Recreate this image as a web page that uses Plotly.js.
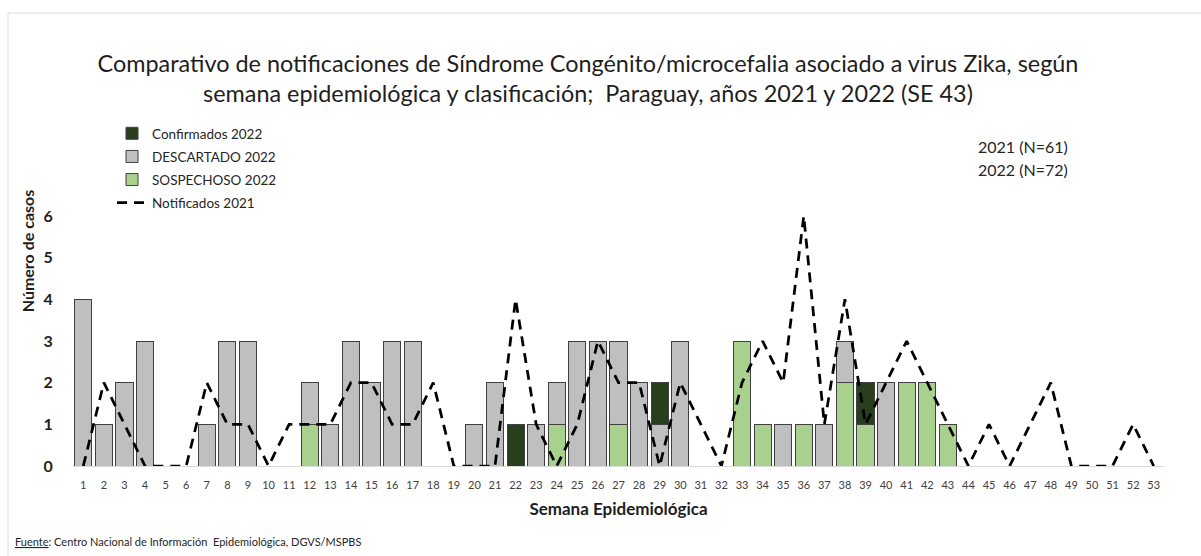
<!DOCTYPE html>
<html>
<head>
<meta charset="utf-8">
<script src="https://cdn.plot.ly/plotly-3.0.1.min.js"></script>
<style>html,body{margin:0;padding:0;background:#fff;}#chart{width:1201px;height:556px;}</style>
</head>
<body>
<div id="chart"></div>
<script>
const weeks = ['1','2','3','4','5','6','7','8','9','10','11','12','13','14','15','16','17','18','19','20','21','22','23','24','25','26','27','28','29','30','31','32','33','34','35','36','37','38','39','40','41','42','43','44','45','46','47','48','49','50','51','52','53'];
// 2022 stacked bars (weeks 1..53)
const sospechoso2022 = [0,0,0,0,0,0,0,0,0,0,0,1,0,0,0,0,0,0,0,0,0,0,0,1,0,0,1,0,0,0,0,0,3,1,0,1,0,2,1,0,2,2,1,0,0,0,0,0,0,0,0,0,0];
const descartado2022 = [4,1,2,3,0,0,1,3,3,0,0,1,1,3,2,3,3,0,0,1,2,0,1,1,3,3,2,2,1,3,0,0,0,0,1,0,1,1,0,2,0,0,0,0,0,0,0,0,0,0,0,0,0];
const confirmados2022 = [0,0,0,0,0,0,0,0,0,0,0,0,0,0,0,0,0,0,0,0,0,1,0,0,0,0,0,0,1,0,0,0,0,0,0,0,0,0,1,0,0,0,0,0,0,0,0,0,0,0,0,0,0];
// 2021 notified line
const notificados2021 = [0,2,1,0,0,0,2,1,1,0,1,1,1,2,2,1,1,2,0,0,0,4,1,0,1,3,2,2,0,2,1,0,2,3,2,6,1,4,1,2,3,2,1,0,1,0,1,2,0,0,0,1,0];
const yTicks = [0,1,2,3,4,5,6];
const yTickText = ['0','1','2','3','4','5','6'];

const FONT = 'Lato, "Open Sans", sans-serif';
const barLine = {color:'#404040', width:1};

const traces = [
  {type:'bar', name:'SOSPECHOSO 2022', x:weeks, y:sospechoso2022, marker:{color:'#A9D18E', line:barLine}, legendrank:3, legendgroup:'c'},
  {type:'bar', name:'DESCARTADO 2022', x:weeks, y:descartado2022, marker:{color:'#BFBFBF', line:barLine}, legendrank:2, legendgroup:'b'},
  {type:'bar', name:'Confirmados 2022', x:weeks, y:confirmados2022, marker:{color:'#283E1C', line:barLine}, legendrank:1, legendgroup:'a'},
  {type:'scatter', mode:'lines', name:'Notificados 2021', x:weeks, y:notificados2021, line:{color:'#000', width:2.75, dash:'10px,7px'}, legendrank:4, legendgroup:'d', cliponaxis:false}
];

const PT = 36, PB = 90, PL = 73, PR = 37, W = 1201, H = 556;
const plotH = H - PT - PB, plotW = W - PL - PR;
const px = v => (v - PL) / plotW;
const py = v => (H - PB - v) / plotH;

const layout = {
  width:W, height:H,
  margin:{l:PL, r:PR, t:PT, b:PB, pad:0},
  paper_bgcolor:'#fff', plot_bgcolor:'rgba(0,0,0,0)',
  barmode:'stack', bargap:0.17,
  font:{family:FONT, color:'#262626'},
  title:{
    text:'Comparativo de notificaciones de Síndrome Congénito/microcefalia asociado a virus Zika, según<br>semana epidemiológica y clasificación;  Paraguay, años 2021 y 2022 (SE 43)',
    font:{family:FONT, size:23.4, color:'#1e1e1e'},
    xref:'container', x:588/W, xanchor:'center',
    yref:'container', y:1-72/H, yanchor:'middle'
  },
  xaxis:{
    type:'category', range:[-0.5, 52.5], fixedrange:true,
    showline:true, linecolor:'#d9d9d9', linewidth:1,
    showgrid:false, zeroline:false,
    ticks:'outside', ticklen:9, tickcolor:'rgba(0,0,0,0)',
    tickfont:{family:FONT, size:11, color:'#404040'},
    tickangle:0,
    title:{text:'Semana Epidemiológica', font:{family:FONT, size:17, weight:'bold', color:'#1e1e1e'}, standoff:12}
  },
  yaxis:{
    range:[0, 10.32], fixedrange:true,
    tickmode:'array', tickvals:yTicks, ticktext:yTickText,
    showline:false, showgrid:false, zeroline:false,
    ticks:'outside', ticklen:16, tickcolor:'rgba(0,0,0,0)',
    tickfont:{family:FONT, size:16, weight:'bold', color:'#1e1e1e'},
    title:{text:'Número de casos', font:{family:FONT, size:16, weight:'bold', color:'#1e1e1e'}, standoff:4}
  },
  showlegend:true,
  legend:{
    x:px(112), xanchor:'left', y:py(118), yanchor:'top',
    bgcolor:'rgba(0,0,0,0)', borderwidth:0,
    font:{family:FONT, size:13.5, color:'#262626'},
    tracegroupgap:2.6, traceorder:'grouped', itemwidth:30
  },
  annotations:[
    {text:'2021 (N=61)', xref:'paper', yref:'paper', x:px(976), y:py(147), xanchor:'left', yanchor:'middle', showarrow:false, font:{family:FONT, size:16, color:'#262626'}},
    {text:'2022 (N=72)', xref:'paper', yref:'paper', x:px(976), y:py(170), xanchor:'left', yanchor:'middle', showarrow:false, font:{family:FONT, size:16, color:'#262626'}},
    {text:'<u>Fuente</u>: Centro Nacional de Información  Epidemiológica, DGVS/MSPBS', xref:'paper', yref:'paper', x:px(13), y:py(541), xanchor:'left', yanchor:'middle', showarrow:false, font:{family:FONT, size:11, color:'#262626'}}
  ],
  shapes:[
    {type:'line', xref:'paper', yref:'paper', x0:px(8), x1:px(1201), y0:py(13), y1:py(13), line:{color:'#d9d9d9', width:1}},
    {type:'line', xref:'paper', yref:'paper', x0:px(8), x1:px(8), y0:py(13), y1:py(556), line:{color:'#d9d9d9', width:1}}
  ]
};

Plotly.newPlot('chart', traces, layout, {displayModeBar:false, staticPlot:true});
</script>
</body>
</html>
